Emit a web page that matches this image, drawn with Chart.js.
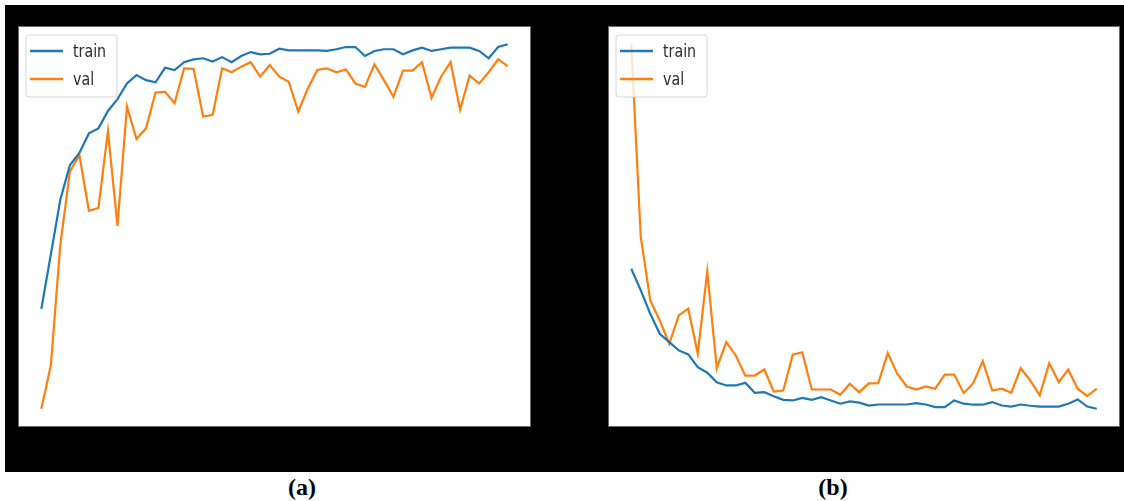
<!DOCTYPE html>
<html>
<head>
<meta charset="utf-8">
<script src="https://cdn.jsdelivr.net/npm/chart.js@4/dist/chart.umd.min.js"></script>
<style>
  html, body { margin: 0; padding: 0; background: #fff; width: 1124px; height: 501px; overflow: hidden; }
  #bg { position: absolute; left: 5px; top: 5px; width: 1119px; height: 467px; background: #000; }
  canvas { position: absolute; }
  #ca { left: 18px; top: 26px; }
  #cb { left: 608px; top: 26px; }
  .lbl { position: absolute; top: 474px; width: 80px; text-align: center;
         font-family: "Liberation Serif", "Times New Roman", serif; font-weight: bold; font-size: 24px; color: #000; }
</style>
</head>
<body>
<div id="bg"></div>
<canvas id="ca" width="513" height="401"></canvas>
<canvas id="cb" width="512" height="401"></canvas>
<div class="lbl" style="left:262px;">(a)</div>
<div class="lbl" style="left:793px;">(b)</div>
<script>
// ---- data (50 epochs) ----
const epochs = Array.from({length: 50}, (_, i) => i);
const seriesNames = ["train", "val"];

const accTrain = [0.478,0.575,0.673,0.734,0.756,0.791,0.800,0.831,0.852,0.880,
                  0.895,0.886,0.882,0.908,0.904,0.918,0.923,0.925,0.919,0.927,
                  0.918,0.929,0.936,0.932,0.933,0.942,0.939,0.939,0.939,0.939,
                  0.938,0.941,0.945,0.945,0.929,0.938,0.941,0.941,0.932,0.939,
                  0.944,0.938,0.941,0.944,0.944,0.944,0.938,0.925,0.945,0.950];
const accVal   = [0.300,0.377,0.593,0.723,0.752,0.653,0.658,0.795,0.626,0.839,
                  0.781,0.800,0.864,0.865,0.845,0.907,0.906,0.821,0.824,0.907,
                  0.900,0.910,0.918,0.892,0.913,0.892,0.883,0.830,0.871,0.904,
                  0.907,0.900,0.905,0.880,0.874,0.914,0.886,0.856,0.903,0.903,
                  0.918,0.854,0.892,0.918,0.833,0.894,0.880,0.900,0.923,0.911];

const lossTrain = [0.892,0.785,0.670,0.571,0.530,0.489,0.469,0.406,0.379,0.332,
                   0.316,0.316,0.329,0.280,0.283,0.263,0.245,0.242,0.255,0.245,
                   0.258,0.242,0.226,0.237,0.231,0.217,0.222,0.222,0.222,0.222,
                   0.229,0.222,0.209,0.209,0.242,0.226,0.221,0.221,0.234,0.217,
                   0.212,0.222,0.216,0.212,0.212,0.212,0.226,0.247,0.212,0.201];
const lossVal   = [2.000,1.048,0.736,0.637,0.522,0.662,0.695,0.473,0.879,0.401,
                   0.530,0.464,0.365,0.365,0.395,0.286,0.291,0.468,0.480,0.296,
                   0.296,0.296,0.270,0.324,0.283,0.326,0.327,0.476,0.374,0.311,
                   0.296,0.311,0.300,0.370,0.370,0.278,0.327,0.436,0.291,0.300,
                   0.280,0.401,0.341,0.267,0.426,0.332,0.394,0.300,0.263,0.300];

const C_BLUE = "#1f77b4", C_ORANGE = "#ff7f0e";

function pts(arr) { return arr.map((v, i) => ({x: epochs[i], y: v})); }
function margins(arrs) {
  const all = [].concat(...arrs);
  const lo = Math.min(...all), hi = Math.max(...all), r = hi - lo;
  return {min: lo - 0.05 * r, max: hi + 0.05 * r};
}

const framePlugin = {
  id: "frame",
  beforeDraw(chart) {
    const c = chart.ctx;
    c.save();
    c.fillStyle = "#fff";
    c.fillRect(0, 0, chart.width, chart.height);
    c.restore();
  },
  afterDraw(chart) {
    const c = chart.ctx;
    c.save();
    // legend
    const lx = 8, ly = 9, lw = 91, lh = 62, rad = 3;
    c.beginPath();
    c.moveTo(lx + rad, ly);
    c.arcTo(lx + lw, ly, lx + lw, ly + lh, rad);
    c.arcTo(lx + lw, ly + lh, lx, ly + lh, rad);
    c.arcTo(lx, ly + lh, lx, ly, rad);
    c.arcTo(lx, ly, lx + lw, ly, rad);
    c.closePath();
    c.fillStyle = "rgba(255,255,255,0.8)";
    c.fill();
    c.strokeStyle = "#d6d6d6";
    c.lineWidth = 1;
    c.stroke();
    chart.data.datasets.forEach((ds, k) => {
      const y = ly + 16 + k * 28;
      c.beginPath();
      c.moveTo(lx + 4, y);
      c.lineTo(lx + 37, y);
      c.strokeStyle = ds.borderColor;
      c.lineWidth = 2.4;
      c.stroke();
      c.save();
      c.translate(lx + 47, y + 1);
      c.scale(0.79, 1);
      c.fillStyle = "#2a2a2a";
      c.font = '18px "DejaVu Sans"';
      c.textBaseline = "middle";
      c.fillText(ds.label, 0, 0);
      c.restore();
    });
    // spines
    c.strokeStyle = "#6a6a6a";
    c.lineWidth = 1;
    c.strokeRect(0.5, 0.5, chart.width - 1, chart.height - 1);
    c.restore();
  }
};

function makeChart(id, train, val) {
  const ym = margins([train, val]);
  const n = epochs.length - 1;
  return new Chart(document.getElementById(id), {
    type: "line",
    data: {
      datasets: [
        {label: seriesNames[0], data: pts(train), borderColor: C_BLUE, borderWidth: 2.2, pointRadius: 0, tension: 0, fill: false},
        {label: seriesNames[1], data: pts(val), borderColor: C_ORANGE, borderWidth: 2.2, pointRadius: 0, tension: 0, fill: false}
      ]
    },
    options: {
      responsive: false,
      animation: false,
      layout: {padding: 0},
      plugins: {legend: {display: false}, tooltip: {enabled: false}},
      scales: {
        x: {type: "linear", display: false, min: -0.05 * n, max: n * 1.05},
        y: {type: "linear", display: false, min: ym.min, max: ym.max}
      }
    },
    plugins: [framePlugin]
  });
}

makeChart("ca", accTrain, accVal);
makeChart("cb", lossTrain, lossVal);
</script>
</body>
</html>
